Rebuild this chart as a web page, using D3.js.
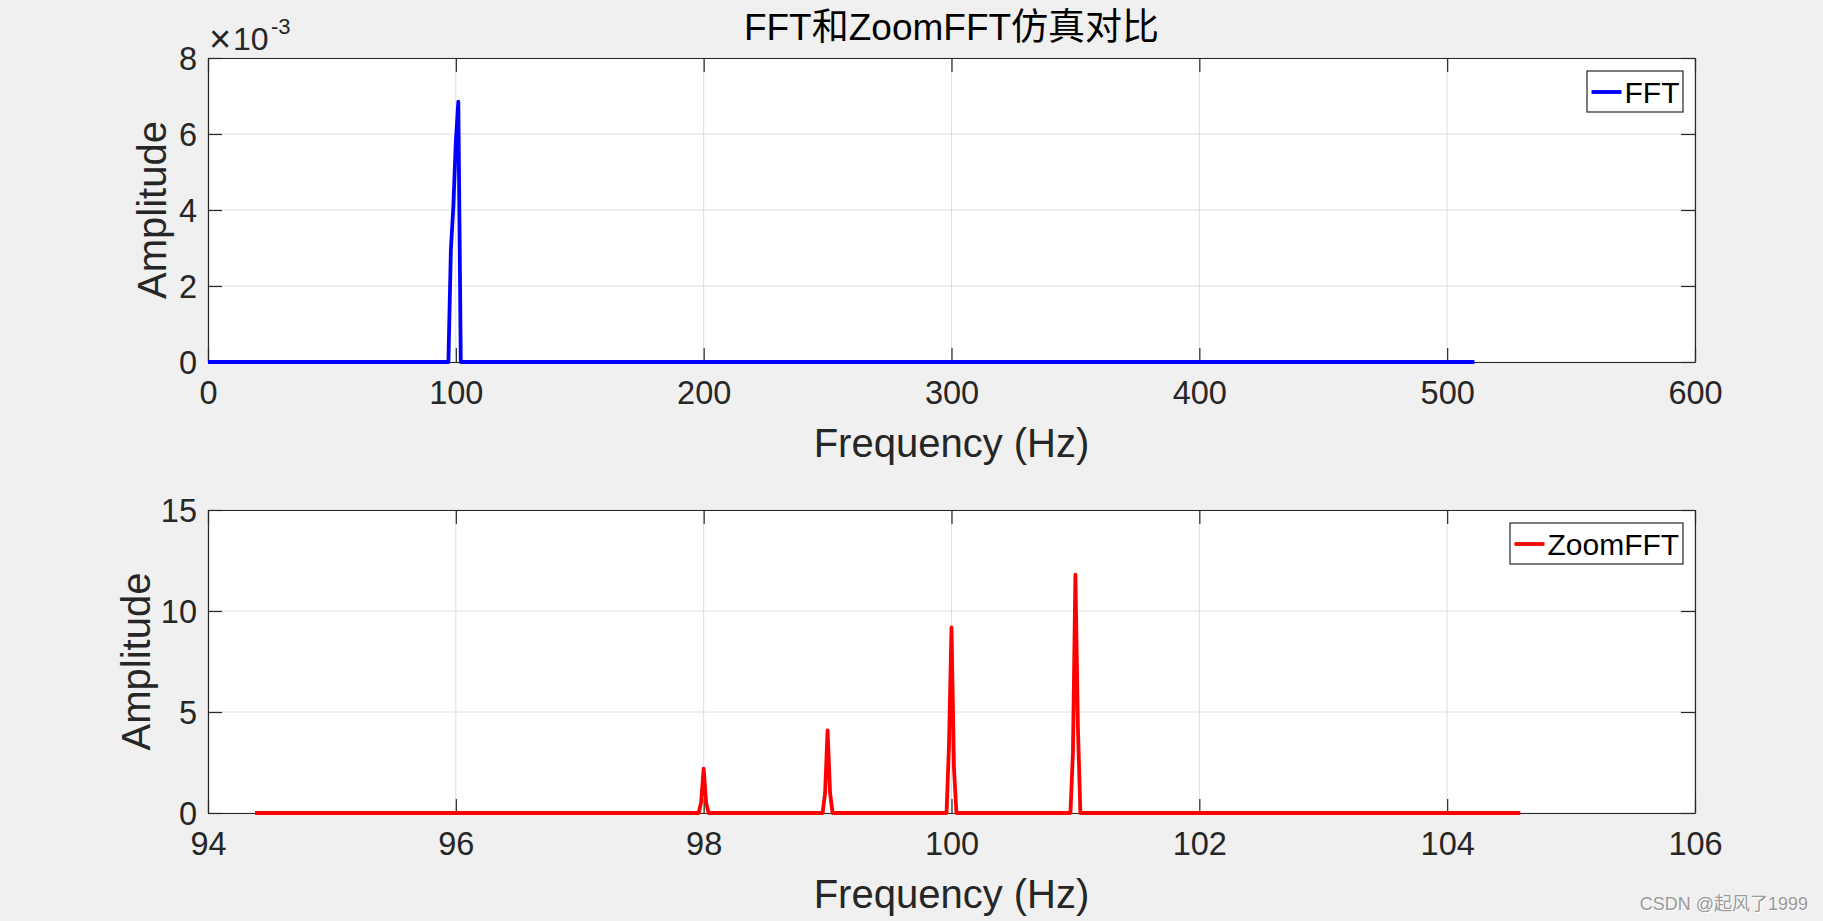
<!DOCTYPE html>
<html>
<head>
<meta charset="utf-8">
<script src="https://cdn.jsdelivr.net/npm/d3@7"></script>
<style>
  html, body { margin: 0; padding: 0; background: #f0f0f0; }
  svg { display: block; }
  text { font-family: "Liberation Sans", Arial, "Noto Sans CJK SC", sans-serif; fill: #262626; }
</style>
</head>
<body>
<script>
// ---------- data ----------
const fftFreq = [0, 97, 98, 99, 100, 101, 102, 511];
const fftAmp  = [0, 0, 2.95e-3, 4.1e-3, 5.8e-3, 6.85e-3, 0, 0];

const zoomFreq = [94.38,
  97.96, 97.98, 98.00, 98.02, 98.04,
  98.96, 98.98, 99.00, 99.02, 99.04,
  99.96, 99.98, 100.00, 100.02, 100.04,
  100.96, 100.98, 101.00, 101.02, 101.04,
  104.59];
const zoomAmp = [0,
  0, 0.55, 2.19, 0.5, 0,
  0, 1.0, 4.09, 1.0, 0,
  0, 3.4, 9.19, 2.2, 0,
  0, 3.0, 11.8, 4.3, 0,
  0];

const fftXTicks = [0, 100, 200, 300, 400, 500, 600];
const fftYTicks = [0, 2e-3, 4e-3, 6e-3, 8e-3];
const zoomXTicks = [94, 96, 98, 100, 102, 104, 106];
const zoomYTicks = [0, 5, 10, 15];

const titleText = "FFT和ZoomFFT仿真对比";
const xLabel = "Frequency (Hz)";
const yLabel = "Amplitude";
const seriesNames = ["FFT", "ZoomFFT"];
const watermark = "CSDN @起风了1999";

// ---------- layout ----------
const W = 1823, H = 921;
const svg = d3.select("body").append("svg").attr("width", W).attr("height", H);
svg.append("rect").attr("width", W).attr("height", H).attr("fill", "#f0f0f0");

const L = 208, R = 1695;
const panels = [
  { top: 58, bottom: 362, xDomain: [0, 600], yDomain: [0, 8e-3], xTicks: fftXTicks, yTicks: fftYTicks,
    xs: fftFreq, ys: fftAmp, color: "#0000ff", name: seriesNames[0], yFmt: d => d3.format("d")(Math.round(d * 1000)),
    ylabelX: 152, legend: { x0: 1587, x1: 1683, y0: 71, y1: 112 } },
  { top: 510, bottom: 813, xDomain: [94, 106], yDomain: [0, 15], xTicks: zoomXTicks, yTicks: zoomYTicks,
    xs: zoomFreq, ys: zoomAmp, color: "#ff0000", name: seriesNames[1], yFmt: d3.format("d"),
    ylabelX: 136, legend: { x0: 1510, x1: 1683, y0: 523, y1: 564 } }
];

const tickLen = 14;
const tickFont = 32.5;

panels.forEach(p => {
  const x = d3.scaleLinear().domain(p.xDomain).range([L, R]);
  const y = d3.scaleLinear().domain(p.yDomain).range([p.bottom, p.top]);
  const g = svg.append("g");

  g.append("rect").attr("x", L).attr("y", p.top).attr("width", R - L).attr("height", p.bottom - p.top)
    .attr("fill", "#ffffff");

  // grid
  g.append("g").selectAll("line").data(p.xTicks).join("line")
    .attr("x1", d => x(d)).attr("x2", d => x(d)).attr("y1", p.top).attr("y2", p.bottom)
    .attr("stroke", "#dedede").attr("stroke-width", 1);
  g.append("g").selectAll("line").data(p.yTicks).join("line")
    .attr("x1", L).attr("x2", R).attr("y1", d => y(d)).attr("y2", d => y(d))
    .attr("stroke", "#dedede").attr("stroke-width", 1);

  // axes
  const styleAxis = sel => {
    sel.selectAll("path.domain").attr("stroke", "#262626").attr("stroke-width", 1.2);
    sel.selectAll(".tick line").attr("stroke", "#262626").attr("stroke-width", 1.2);
    sel.selectAll(".tick text").attr("fill", "#262626").style("font-size", tickFont + "px")
      .style("font-family", '"Liberation Sans", Arial, sans-serif');
  };
  g.append("g").attr("transform", `translate(0,${p.bottom})`)
    .call(d3.axisBottom(x).tickValues(p.xTicks).tickSizeInner(-tickLen).tickSizeOuter(0).tickPadding(19).tickFormat(d3.format("d")))
    .call(styleAxis);
  g.append("g").attr("transform", `translate(0,${p.top})`)
    .call(d3.axisTop(x).tickValues(p.xTicks).tickSizeInner(-tickLen).tickSizeOuter(0).tickFormat(""))
    .call(styleAxis);
  g.append("g").attr("transform", `translate(${L},0)`)
    .call(d3.axisLeft(y).tickValues(p.yTicks).tickSizeInner(-tickLen).tickSizeOuter(0).tickPadding(11).tickFormat(p.yFmt))
    .call(styleAxis)
    .selectAll(".tick text").attr("dy", "0.36em");
  g.append("g").attr("transform", `translate(${R},0)`)
    .call(d3.axisRight(y).tickValues(p.yTicks).tickSizeInner(-tickLen).tickSizeOuter(0).tickFormat(""))
    .call(styleAxis);

  // series line
  const pts = p.xs.map((v, i) => [v, p.ys[i]]);
  g.append("path").datum(pts)
    .attr("fill", "none").attr("stroke", p.color).attr("stroke-width", 3.8)
    .attr("stroke-linejoin", "round")
    .attr("d", d3.line().x(d => x(d[0])).y(d => y(d[1])));

  // axis labels
  g.append("text").attr("x", (L + R) / 2).attr("y", p.bottom + 95)
    .attr("text-anchor", "middle").style("font-size", "40px").text(xLabel);
  g.append("text").attr("transform", `translate(${p.ylabelX + 14},${(p.top + p.bottom) / 2}) rotate(-90)`)
    .attr("text-anchor", "middle").style("font-size", "40px").text(yLabel);

  // legend
  const lg = p.legend;
  g.append("rect").attr("x", lg.x0).attr("y", lg.y0).attr("width", lg.x1 - lg.x0).attr("height", lg.y1 - lg.y0)
    .attr("fill", "#ffffff").attr("stroke", "#262626").attr("stroke-width", 1.2);
  const ly = (lg.y0 + lg.y1) / 2 + 0.5;
  g.append("line").attr("x1", lg.x0 + 4.5).attr("x2", lg.x0 + 34.5).attr("y1", ly).attr("y2", ly)
    .attr("stroke", p.color).attr("stroke-width", 3.8);
  g.append("text").attr("x", lg.x0 + 37.5).attr("y", ly + 10.5).style("font-size", "30px")
    .style("fill", "#000").text(p.name);
});

// exponent label for the top panel
svg.append("text").attr("x", 209).attr("y", 52).style("font-size", "38px").text("×");
svg.append("text").attr("x", 233).attr("y", 50).style("font-size", "32px").text("10");
svg.append("text").attr("x", 271).attr("y", 34).style("font-size", "22px").text("-3");

// title
svg.append("text").attr("x", (L + R) / 2).attr("y", 40).attr("text-anchor", "middle")
  .style("font-size", "37px").style("fill", "#000").text(titleText);

// watermark
svg.append("text").attr("x", 1808).attr("y", 909.5).attr("text-anchor", "end")
  .style("font-size", "18px").style("fill", "#ffffff").attr("dx", 1).attr("dy", 1).text(watermark);
svg.append("text").attr("x", 1808).attr("y", 909.5).attr("text-anchor", "end")
  .style("font-size", "18px").style("fill", "#9a9a9a").text(watermark);
</script>
</body>
</html>
